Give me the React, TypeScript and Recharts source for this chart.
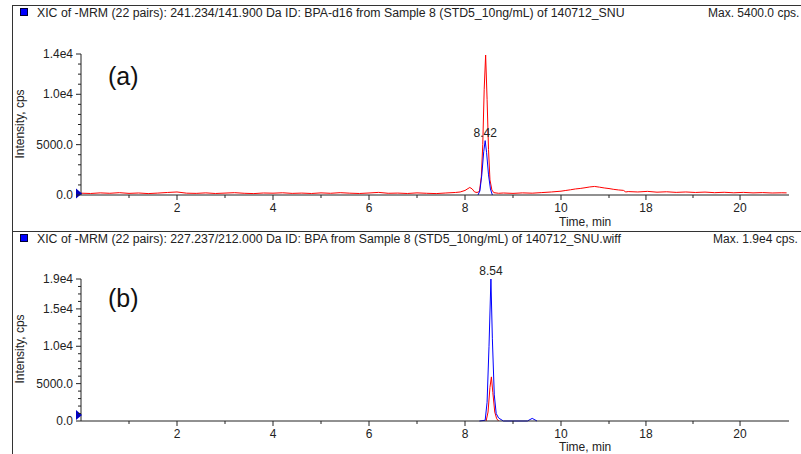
import React from "react";
import { LineChart, Line, XAxis, YAxis, ReferenceDot } from "recharts";

// time positions are as drawn on the (broken) time axis, min
const xMajor = [2, 4, 6, 8, 10, 11.77, 13.73];
const xMajorLabels = ["2", "4", "6", "8", "10", "18", "20"];
const xMinor = [1, 3, 5, 7, 9, 11, 12.75];

const yTicksA = [0, 5000, 10000, 14000];
const yLabelsA = ["0.0", "5000.0", "1.0e4", "1.4e4"];
const yTicksB = [0, 5000, 10000, 15000, 19000];
const yLabelsB = ["0.0", "5000.0", "1.0e4", "1.5e4", "1.9e4"];
const yMinorA = [1000, 2000, 3000, 4000, 6000, 7000, 8000, 9000, 11000, 12000, 13000];
const yMinorB = [1000, 2000, 3000, 4000, 6000, 7000, 8000, 9000, 11000, 12000, 13000, 14000, 16000, 17000, 18000];

// (a) BPA-d16, red trace
const redA: [number, number][] = [
  [0.0, 180], [0.2, 150], [0.4, 210], [0.6, 170], [0.8, 230], [1.0, 160], [1.2, 200], [1.4, 140],
  [1.6, 190], [1.8, 250], [2.0, 300], [2.2, 180], [2.4, 160], [2.6, 210], [2.8, 150], [3.0, 190],
  [3.2, 230], [3.4, 170], [3.6, 140], [3.8, 200], [4.0, 180], [4.2, 220], [4.4, 160], [4.6, 190],
  [4.8, 150], [5.0, 210], [5.2, 170], [5.4, 230], [5.6, 180], [5.8, 150], [6.0, 200], [6.2, 260],
  [6.4, 170], [6.6, 190], [6.8, 150], [7.0, 210], [7.2, 170], [7.4, 140], [7.6, 200], [7.8, 250],
  [7.9, 300], [8.0, 450], [8.1, 750], [8.15, 600], [8.2, 300], [8.25, 250], [8.3, 350], [8.34, 1800],
  [8.37, 5000], [8.4, 10500], [8.43, 13900], [8.46, 9500], [8.49, 4500], [8.52, 1500], [8.56, 500],
  [8.6, 230], [8.7, 170], [8.8, 200], [9.0, 160], [9.2, 210], [9.4, 180], [9.6, 240], [9.8, 300],
  [10.0, 380], [10.1, 450], [10.2, 520], [10.3, 600], [10.4, 650], [10.5, 720], [10.6, 800],
  [10.7, 850], [10.8, 780], [10.9, 700], [11.0, 640], [11.1, 560], [11.2, 500], [11.3, 460],
  [11.35, 300], [11.4, 340], [11.6, 300], [11.8, 360], [12.0, 280], [12.2, 320], [12.4, 260],
  [12.6, 300], [12.8, 250], [13.0, 290], [13.2, 230], [13.4, 270], [13.6, 220], [13.8, 260],
  [14.0, 210], [14.2, 240], [14.4, 200], [14.6, 220], [14.7, 210],
];
// (a) blue trace
const blueA: [number, number][] = [
  [8.27, 0], [8.31, 400], [8.35, 2000], [8.39, 4300], [8.42, 5400], [8.45, 4200], [8.49, 2000],
  [8.53, 600], [8.57, 0],
];

// (b) BPA, blue trace
const blueB: [number, number][] = [
  [8.3, 0], [8.42, 100], [8.46, 2500], [8.5, 10000], [8.54, 19000], [8.57, 11000], [8.61, 3500],
  [8.65, 1000], [8.7, 400], [8.75, 200], [8.8, 0], [9.3, 0], [9.4, 350], [9.5, 0],
];
// (b) red trace
const redB: [number, number][] = [
  [8.44, 0], [8.48, 1200], [8.52, 4500], [8.55, 5900], [8.58, 3800], [8.62, 1200], [8.66, 300],
  [8.7, 0],
];

const FONT = "'Liberation Sans', Arial, sans-serif";
const INK = "#222";

const toRows = (arr: [number, number][]) => arr.map(([t, v]) => ({ t, v }));

const XTick = ({ x, y, payload }: any) => {
  const i = xMajor.indexOf(payload.value);
  const major = i >= 0;
  return (
    <g>
      <line x1={x} x2={x} y1={y} y2={y + (major ? 5 : 3)} stroke={INK} />
      {major && (
        <text x={x} y={y + 17} textAnchor="middle" fontSize={12} fontFamily={FONT} fill={INK}>
          {xMajorLabels[i]}
        </text>
      )}
    </g>
  );
};

const YTick = ({ x, y, payload, majors, labels }: any) => {
  const i = majors.indexOf(payload.value);
  const major = i >= 0;
  return (
    <g>
      <line x1={x} x2={x - (major ? 5 : 3)} y1={y} y2={y} stroke={INK} />
      {major && (
        <text x={x - 8} y={y + 4} textAnchor="end" fontSize={12} fontFamily={FONT} fill={INK}>
          {labels[i]}
        </text>
      )}
    </g>
  );
};

const peakLabel = (series: [number, number][]) => {
  const max = Math.max(...series.map((p) => p[1]));
  const top = series.find((p) => p[1] === max)!;
  return (props: any) =>
    props.value === max ? (
      <text x={props.x} y={props.y - 4} textAnchor="middle" fontSize={12} fontFamily={FONT} fill={INK}>
        {top[0].toFixed(2)}
      </text>
    ) : (
      <g />
    );
};

const Marker = ({ cx, cy }: any) => (
  <path d={`M${cx - 5},${cy - 5} L${cx + 1},${cy} L${cx - 5},${cy + 5} Z`} fill="#0000c0" />
);

function Panel({
  height, top, yMax, majors, labels, minors, red, blue, markerY,
}: any) {
  return (
    <LineChart width={801} height={height} margin={{ top, right: 12, left: 0, bottom: 0 }}>
      <XAxis
        dataKey="t"
        type="number"
        domain={[0, 14.75]}
        ticks={[...xMinor, ...xMajor].sort((a, b) => a - b)}
        interval={0}
        height={33}
        tickSize={0}
        tickMargin={0}
        tickLine={false}
        axisLine={{ stroke: INK }}
        tick={<XTick />}
        allowDuplicatedCategory={false}
      />
      <YAxis
        type="number"
        domain={[0, yMax]}
        ticks={[...majors, ...minors].sort((a: number, b: number) => a - b)}
        interval={0}
        width={81}
        tickSize={0}
        tickMargin={0}
        tickLine={false}
        axisLine={{ stroke: INK }}
        tick={<YTick majors={majors} labels={labels} />}
      />
      <Line data={toRows(red)} dataKey="v" stroke="#ff0000" strokeWidth={1} dot={false}
        type="linear" isAnimationActive={false} />
      <Line data={toRows(blue)} dataKey="v" stroke="#0000ff" strokeWidth={1} dot={false}
        type="linear" isAnimationActive={false} label={peakLabel(blue)} />
      <ReferenceDot x={0} y={markerY} r={0} shape={<Marker />} ifOverflow="visible" />
    </LineChart>
  );
}

const txt: React.CSSProperties = {
  position: "absolute", fontFamily: FONT, fontSize: 12, lineHeight: "14px", color: INK, whiteSpace: "nowrap",
};

function Header({ top, text, max }: { top: number; text: string; max: { left: number; s: string } }) {
  return (
    <>
      <div style={{ position: "absolute", left: 12, top, width: 789, height: 1, background: "#333" }} />
      <div style={{ position: "absolute", left: 20, top: top + 3, width: 6, height: 6, background: "#0000ff", border: "1px solid #003" }} />
      <div style={{ ...txt, fontSize: 12.3, left: 37, top: top + 1 }}>{text}</div>
      <div style={{ ...txt, left: max.left, top: top + 1 }}>{max.s}</div>
    </>
  );
}

export default function App() {
  return (
    <div style={{ position: "absolute", left: 0, top: 0, width: 801, height: 454, overflow: "hidden", background: "#fff" }}>
      <div style={{ position: "absolute", left: 0, top: 0 }}>
        <Panel height={228} top={54} yMax={14000} majors={yTicksA} labels={yLabelsA} minors={yMinorA}
          red={redA} blue={blueA} markerY={150} />
      </div>
      <div style={{ position: "absolute", left: 0, top: 228 }}>
        <Panel height={226} top={51} yMax={19000} majors={yTicksB} labels={yLabelsB} minors={yMinorB}
          red={redB} blue={blueB} markerY={800} />
      </div>
      <div style={{ position: "absolute", left: 12, top: 5, width: 1, height: 449, background: "#333" }} />
      <Header top={5} text="XIC of -MRM (22 pairs): 241.234/141.900 Da ID: BPA-d16 from Sample 8 (STD5_10ng/mL) of 140712_SNU"
        max={{ left: 708, s: "Max. 5400.0 cps." }} />
      <Header top={231} text="XIC of -MRM (22 pairs): 227.237/212.000 Da ID: BPA from Sample 8 (STD5_10ng/mL) of 140712_SNU.wiff"
        max={{ left: 713, s: "Max. 1.9e4 cps." }} />
      <div style={{ ...txt, left: 108, top: 62, fontSize: 25, lineHeight: "28px", color: "#111" }}>(a)</div>
      <div style={{ ...txt, left: 108, top: 284, fontSize: 25, lineHeight: "28px", color: "#111" }}>(b)</div>
      <div style={{ ...txt, left: 559, top: 215 }}>Time, min</div>
      <div style={{ ...txt, left: 559, top: 440 }}>Time, min</div>
      <div style={{ ...txt, left: 20, top: 124, transform: "translate(-50%, -50%) rotate(-90deg)" }}>Intensity, cps</div>
      <div style={{ ...txt, left: 20, top: 349, transform: "translate(-50%, -50%) rotate(-90deg)" }}>Intensity, cps</div>
    </div>
  );
}
